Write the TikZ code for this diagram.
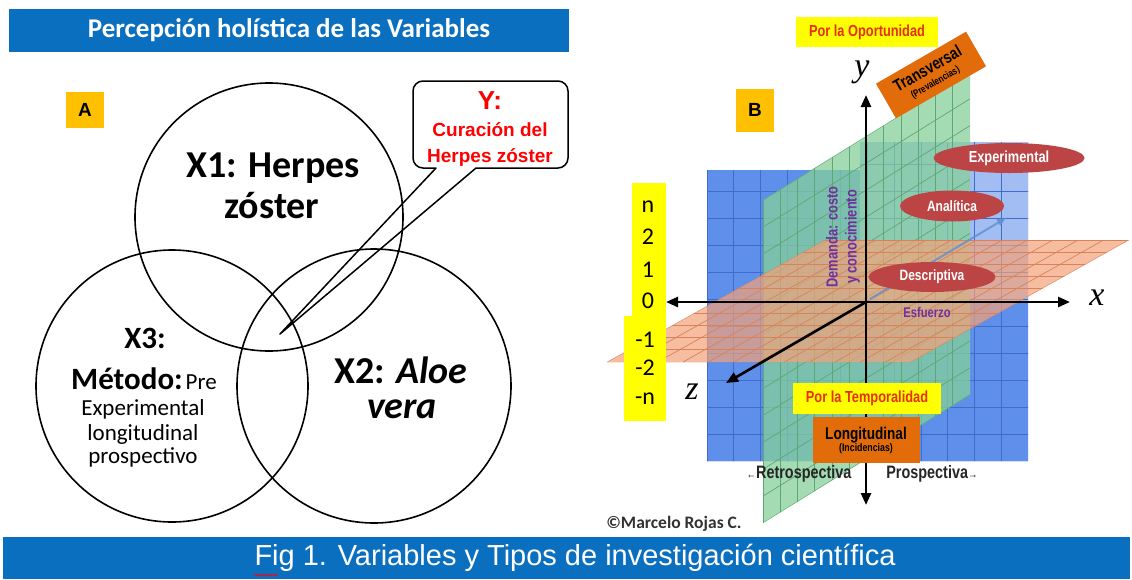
\documentclass[tikz,border=0pt]{standalone}
\usepackage{fontspec}
\setmainfont{Carlito}
\newfontfamily\ari{Liberation Sans}
\newfontfamily\narrow[FakeStretch=0.8]{Liberation Sans}
\newfontfamily\seri{Liberation Serif}
\usetikzlibrary{arrows.meta,shapes.geometric,decorations.pathmorphing}
\definecolor{barblue}{HTML}{0B6FC0}
\definecolor{gold}{HTML}{FFC000}
\definecolor{yel}{HTML}{FFFF00}
\definecolor{redtxt}{HTML}{E8300C}
\definecolor{orbox}{HTML}{E36C0A}
\definecolor{ellred}{HTML}{BD4444}
\definecolor{purp}{HTML}{7030A0}
\definecolor{planeblue}{HTML}{5E8FEA}
\definecolor{gridblue}{HTML}{3F6CC8}
\definecolor{planegreen}{HTML}{86D09A}
\definecolor{gridgreen}{HTML}{5DA872}
\definecolor{planeor}{HTML}{F5A27A}
\definecolor{gridor}{HTML}{D9825A}
\definecolor{arrowblue}{HTML}{5F8FD2}
\tikzset{
  venn/.style={draw=black, line width=1.6pt},
  bigtxt/.style={font=\bfseries\fontsize{38}{40}\selectfont, anchor=base, inner sep=0pt},
  midtxt/.style={font=\fontsize{23}{25}\selectfont, anchor=base, inner sep=0pt},
  letterbox/.style={fill=gold, inner sep=0pt, font=\ari\bfseries\fontsize{19}{20}\selectfont},
  yelbox/.style={fill=yel, inner sep=0pt, text=redtxt, font=\narrow\bfseries\fontsize{16}{17}\selectfont},
  orbx/.style={fill=orbox, inner sep=0pt, align=center},
  ell/.style={ellipse, fill=ellred, inner sep=0pt, text=white, font=\narrow\bfseries\fontsize{15}{16}\selectfont},
  axis/.style={line width=2.6pt, -{Triangle[length=12pt,width=10pt]}},
  axlab/.style={font=\seri\itshape\fontsize{34}{34}\selectfont, inner sep=0pt},
  numtxt/.style={font=\fontsize{24}{24}\selectfont, inner sep=0pt},
  purtxt/.style={text=purp, font=\narrow\bfseries\fontsize{14}{15}\selectfont, inner sep=0pt},
  sidetxt/.style={font=\narrow\bfseries\fontsize{18}{18}\selectfont, text=black!85, inner sep=0pt},
}
\begin{document}
\begin{tikzpicture}[x=1pt,y=-1pt]
\useasboundingbox (0,0) rectangle (1132,579);
\fill[white] (0,0) rectangle (1132,579);

% ---------------- Left panel ----------------
\fill[barblue] (9,9) rectangle (569,52);
\node[text=white, font=\bfseries\fontsize{27}{28}\selectfont, inner sep=0pt] (ltitle) at (289,30) {Percepción holística de las Variables};
\node[letterbox, minimum width=38pt, minimum height=36pt] (A) at (85,110) {A};

% callout
\coordinate (tip) at (280,334);
\coordinate (tailL) at (436,168);
\coordinate (tailR) at (476,168);
\draw[line width=1.5pt, line join=round] (tip) -- (tailR) -- (558,168) arc[start angle=90,end angle=0,radius=10]
  -- (568,91) arc[start angle=0,end angle=-90,radius=10]
  -- (423,81) arc[start angle=-90,end angle=-180,radius=10]
  -- (413,158) arc[start angle=180,end angle=90,radius=10]
  -- (tailL) -- cycle;
\node[text=red, font=\ari\bfseries\fontsize{26}{26}\selectfont, inner sep=0pt] (ylab) at (490,101) {Y:};
\node[text=red, font=\ari\bfseries\fontsize{19}{26}\selectfont, align=center, inner sep=0pt] (ytxt) at (490,144) {Curación del\\Herpes zóster};

% circles
\node[venn, circle, minimum size=268pt, inner sep=0pt] (c1) at (269,217) {};
\node[venn, circle, minimum size=272pt, inner sep=0pt] (c3) at (172,386) {};
\node[venn, circle, minimum size=274pt, inner sep=0pt] (c2) at (374,386) {};

\node[bigtxt] (x1a) at (273,177) {X1: Herpes};
\node[bigtxt] (x1b) at (272,218) {zóster};
\node[bigtxt] (x2a) at (401,383) {X2: \textit{Aloe}};
\node[bigtxt] (x2b) at (402,418) {\textit{vera}};
\node[bigtxt, font=\bfseries\fontsize{31}{32}\selectfont] (x3a) at (145,348) {X3:};
\node[anchor=base, inner sep=0pt] (x3b) at (144,389) {{\bfseries\fontsize{31}{32}\selectfont Método:} {\fontsize{23}{24}\selectfont Pre}};
\node[midtxt] (x3c) at (143,415) {Experimental};
\node[midtxt] (x3d) at (143,440) {longitudinal};
\node[midtxt] (x3e) at (143,463) {prospectivo};

% ---------------- Right panel ----------------
% blue plane
\begin{scope}
\clip (707,170) -- (860,170) -- (860,142) -- (1028,142) -- (1028,461) -- (707,461) -- cycle;
\fill[planeblue] (700,130) rectangle (1035,470);
\fill[white, fill opacity=0.42] (860,130) rectangle (1035,302);
\foreach \i in {0,...,12} \draw[gridblue, line width=0.8pt] ({707+\i*26.75},130) -- ({707+\i*26.75},470);
\foreach \j in {0,...,12} \draw[gridblue, line width=0.8pt] (700,{461-\j*27}) -- (1035,{461-\j*27});
\end{scope}
% green plane
\begin{scope}
\clip (763,200) -- (970,72) -- (970,395) -- (763,523) -- cycle;
\fill[planegreen, fill opacity=0.75] (760,60) rectangle (975,530);
\foreach \i in {0,...,12} \draw[gridgreen, line width=0.7pt] ({763+\i*17.25},60) -- ({763+\i*17.25},530);
\foreach \j in {0,...,13} \draw[gridgreen, line width=0.7pt] (763,{523-\j*26.9}) -- (970,{523-128.3-\j*26.9});
\end{scope}
% orange plane
\begin{scope}
\clip (607,362) -- (825,240) -- (1129,240) -- (911,362) -- cycle;
\fill[planeor, fill opacity=0.7] (600,235) rectangle (1135,367);
\foreach \i in {0,...,12} \draw[gridor, line width=0.7pt] ({607+\i*25.33},362) -- ({825+\i*25.33},240);
\foreach \j in {0,...,10} \draw[gridor, line width=0.7pt] (600,{362-\j*12.2}) -- (1135,{362-\j*12.2});
\end{scope}

% yellow number column
\fill[yel] (632,183) rectangle (666,316);
\fill[yel] (624,316) rectangle (666,421);
\node[numtxt] (nn) at (648,207) {n};
\node[numtxt] (n2) at (648,237) {2};
\node[numtxt] (n1) at (648,270) {1};
\node[numtxt] (n0) at (648,301) {0};
\node[numtxt] (m1) at (645,340) {-1};
\node[numtxt] (m2) at (645,368) {-2};
\node[numtxt] (mn) at (645,399) {-n};

% axes
\coordinate (O) at (866,302);
\coordinate (ytop) at (866,95);
\coordinate (ybot) at (866,505);
\coordinate (xl) at (666,302);
\coordinate (xr) at (1070,302);
\coordinate (zend) at (726,383);
\coordinate (dend) at (1006,218);
\coordinate (dstart) at (870,299);
\draw[arrowblue, opacity=0.8, line width=2pt, -{Triangle[length=9pt,width=7pt]}] (dstart) -- (dend);
\draw[axis] (O) -- (ytop);
\draw[axis] (O) -- (ybot);
\draw[axis] (O) -- (xl);
\draw[axis] (O) -- (xr);
\draw[axis] (O) -- (zend);

\node[axlab] (ylabel) at (862,72) {y};
\node[axlab] (xlabel) at (1097,298) {x};
\node[axlab] (zlabel) at (692,392) {z};

% labels
\node[yelbox, minimum width=142pt, minimum height=30pt] (oport) at (867,32) {Por la Oportunidad};
\node[letterbox, minimum width=38pt, minimum height=43pt] (B) at (755,110) {B};
\node[orbx, rotate=30, minimum width=104pt, minimum height=40pt] (trans) at (931,75)
  {\narrow\bfseries\fontsize{17}{17}\selectfont Transversal\\[1pt]{\narrow\bfseries\fontsize{10}{10}\selectfont (Prevalencias)}};
\node[ell, minimum width=151pt, minimum height=30pt, font=\narrow\bfseries\fontsize{16}{16}\selectfont] (exp) at (1009,158) {Experimental};
\node[ell, minimum width=104pt, minimum height=31pt] (ana) at (952,206) {Analítica};
\node[ell, minimum width=127pt, minimum height=30pt] (desc) at (932,277) {Descriptiva};
\node[purtxt] (esf) at (927,312) {Esfuerzo};
\node[purtxt, rotate=90, align=center, font=\narrow\bfseries\fontsize{16}{19}\selectfont] (dem) at (843,237) {Demanda: costo\\y conocimiento};
\node[yelbox, minimum width=148pt, minimum height=31pt] (temp) at (867,398) {Por la Temporalidad};
\node[orbx, minimum width=107pt, minimum height=46pt] (longi) at (866,440)
  {\narrow\bfseries\fontsize{17}{17}\selectfont Longitudinal\\[0pt]{\narrow\bfseries\fontsize{11}{11}\selectfont (Incidencias)}};
\node[sidetxt] (retro) at (799,474) {{\fontsize{12}{12}\selectfont ←}Retrospectiva};
\node[sidetxt] (prosp) at (932,474) {Prospectiva{\fontsize{12}{12}\selectfont →}};
\node[font=\bfseries\fontsize{17.5}{18}\selectfont, text=black!80, inner sep=0pt] (copy) at (674,524) {©Marcelo Rojas C.};

% bottom caption
\fill[barblue] (3,537) rectangle (1130,579);
\node[text=white, font=\ari\fontsize{29}{30}\selectfont, inner sep=0pt] (cap) at (575,558) {Fig 1. Variables y Tipos de investigación científica};
\coordinate (sq1) at (254,575);
\coordinate (sq2) at (278,575);
\draw[red, line width=0.6pt, decorate, decoration={zigzag, amplitude=1pt, segment length=3pt}] (sq1) -- (sq2);
\end{tikzpicture}
\end{document}
